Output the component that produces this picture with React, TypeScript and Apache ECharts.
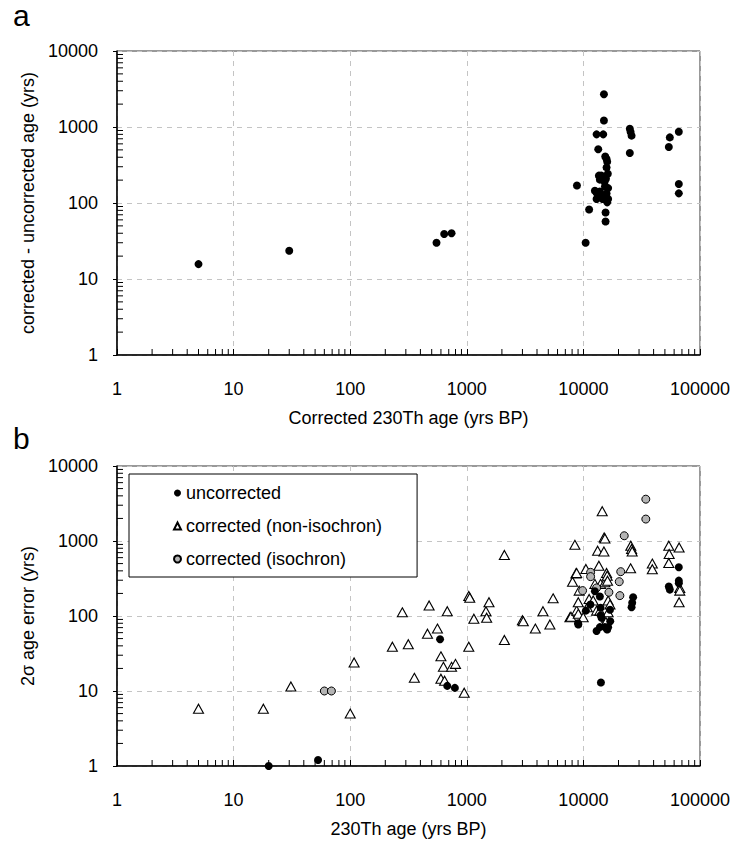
import React, { useEffect, useRef } from "react";
import * as echarts from "echarts";

const FONT = "'Liberation Sans', Arial, Helvetica, sans-serif";

// Panel a: corrected 230Th age vs (corrected - uncorrected age)
const panelA: [number, number][] = [
  [5, 15.7], [30, 23.5], [550, 30], [640, 39], [740, 40],
  [8800, 170], [10450, 30], [11200, 82], [12550, 145], [12970, 113],
  [12970, 800], [13400, 510], [13580, 229], [13840, 203], [13840, 142],
  [14600, 113], [14800, 800], [15000, 1220], [15000, 2700], [15300, 165],
  [15400, 410], [15500, 75], [15500, 57], [15600, 209], [15800, 380],
  [15800, 294], [15800, 133], [16000, 102], [16200, 243], [16300, 157],
  [16300, 113], [13000, 135], [14000, 120], [15200, 190], [16000, 350],
  [14200, 230], [25000, 950], [25400, 860], [25900, 770], [25000, 455],
  [55100, 730], [54000, 546], [65800, 867], [65800, 178], [65800, 134],
];

// Panel b: 230Th age vs 2-sigma age error
const uncorrected: [number, number][] = [
  [20, 1], [53, 1.2], [590, 49], [680, 11.7], [790, 11], [9000, 80],
  [9040, 77], [10500, 118], [11480, 142], [12550, 214], [12970, 63],
  [13840, 182], [13840, 71], [14040, 129], [14040, 102], [14130, 13],
  [15280, 71], [16000, 66], [16300, 71], [16900, 121], [14300, 95],
  [17000, 85], [25900, 131], [26200, 150], [26700, 178], [54000, 247],
  [55100, 225], [65800, 446], [65800, 296], [65800, 273],
];

const nonIsochron: [number, number][] = [
  [5, 5.8], [18, 5.8], [31, 11.5], [100, 5], [108, 24], [230, 39],
  [280, 112], [315, 42], [355, 15], [460, 58], [475, 138], [560, 68],
  [600, 29], [630, 21], [740, 21], [800, 23], [600, 14.6], [645, 13.7],
  [680, 116], [950, 9.5], [1040, 185], [1060, 175], [1150, 92], [1040, 39],
  [1460, 116], [1480, 95], [1550, 153], [2100, 650], [2100, 48], [3000, 88],
  [3050, 85], [3870, 68], [4500, 116], [5160, 77], [5500, 172], [7660, 96],
  [7820, 98], [8070, 287], [8450, 890], [8630, 370], [8750, 375], [8750, 118],
  [9040, 153], [9040, 107], [9200, 218], [9960, 96], [10500, 424], [10800, 131],
  [11200, 169], [12130, 161], [12550, 268], [12970, 118], [13240, 742],
  [13580, 469], [13840, 118], [14040, 268], [14500, 2500], [15000, 726],
  [15070, 1115], [15280, 281], [15300, 1080], [15800, 375], [15800, 95],
  [15600, 83], [16000, 345], [16100, 296], [16300, 161], [16300, 112],
  [16900, 142], [25400, 432], [25500, 865], [25900, 782], [26200, 726],
  [39000, 500], [39000, 420], [54000, 865], [54400, 671], [54000, 509],
  [66200, 820], [67100, 237], [67100, 218], [66200, 153],
];

const isochron: [number, number][] = [
  [60, 10], [69, 10], [9840, 218], [11530, 382], [11530, 335], [12970, 237],
  [16550, 207], [20300, 287], [20550, 187], [20900, 390], [22400, 1175],
  [34300, 3610], [34300, 1960],
];

const X_MIN = 1;
const X_MAX = 100000;
const Y_MIN = 1;
const Y_MAX = 10000;

function minorTickValues(maxVal: number): number[] {
  const out: number[] = [];
  for (let d = 1; d < maxVal; d *= 10) {
    for (let m = 2; m <= 9; m++) out.push(m * d);
  }
  return out;
}

const xMinor = minorTickValues(X_MAX);
const yMinor = minorTickValues(Y_MAX);

function makeXAxis(gridIndex: number, name: string) {
  return {
    type: "log",
    logBase: 10,
    gridIndex,
    min: X_MIN,
    max: X_MAX,
    name,
    nameLocation: "middle",
    nameGap: 54,
    nameTextStyle: { fontFamily: FONT, fontSize: 18, color: "#000" },
    axisLine: { show: true, onZero: false, lineStyle: { color: "#000", width: 1.5 } },
    axisTick: { show: true, inside: true, length: 6, lineStyle: { color: "#000" } },
    axisLabel: {
      fontFamily: FONT, fontSize: 18, color: "#000", margin: 25,
      formatter: (v: number) => String(v),
    },
    splitLine: { show: true, lineStyle: { color: "#c4c4c4", type: [5, 5], width: 1 } },
  };
}

function makeYAxis(gridIndex: number, name: string) {
  return {
    type: "log",
    logBase: 10,
    gridIndex,
    min: Y_MIN,
    max: Y_MAX,
    name,
    nameLocation: "middle",
    nameGap: 78,
    nameTextStyle: { fontFamily: FONT, fontSize: 18, color: "#000" },
    axisLine: { show: true, onZero: false, lineStyle: { color: "#000", width: 1.5 } },
    axisTick: { show: true, inside: false, length: 4, lineStyle: { color: "#000" } },
    axisLabel: {
      fontFamily: FONT, fontSize: 18, color: "#000", margin: 19,
      formatter: (v: number) => String(v),
    },
    splitLine: { show: true, lineStyle: { color: "#c4c4c4", type: [5, 5], width: 1 } },
  };
}

function minorTickSeries(index: number) {
  return [
    {
      name: `xminor${index}`,
      type: "scatter",
      xAxisIndex: index,
      yAxisIndex: index,
      silent: true,
      clip: false,
      symbol: "rect",
      symbolSize: [1, 6],
      symbolOffset: [0, -3],
      itemStyle: { color: "#000", opacity: 1 },
      data: xMinor.map((v) => [v, Y_MIN]),
      z: 5,
    },
    {
      name: `yminor${index}`,
      type: "scatter",
      xAxisIndex: index,
      yAxisIndex: index,
      silent: true,
      clip: false,
      symbol: "rect",
      symbolSize: [6, 1],
      symbolOffset: [3, 0],
      itemStyle: { color: "#000", opacity: 1 },
      data: yMinor.map((v) => [X_MIN, v]),
      z: 5,
    },
  ];
}

export default function App() {
  const ref = useRef<HTMLDivElement>(null);

  useEffect(() => {
    document.body.style.margin = "0";
    if (!ref.current) return;
    const chart = echarts.init(ref.current, undefined, { renderer: "svg" });
    chart.setOption({
      animation: false,
      backgroundColor: "#fff",
      grid: [
        { left: 117, right: 39, top: 51, height: 304, show: true, borderColor: "#333", borderWidth: 1, backgroundColor: "transparent" },
        { left: 117, right: 39, top: 466, height: 300, show: true, borderColor: "#333", borderWidth: 1, backgroundColor: "transparent" },
      ],
      xAxis: [
        makeXAxis(0, "Corrected 230Th age (yrs BP)"),
        makeXAxis(1, "230Th age (yrs BP)"),
      ],
      yAxis: [
        makeYAxis(0, "corrected - uncorrected age (yrs)"),
        makeYAxis(1, "2σ age error (yrs)"),
      ],
      legend: {
        data: [
          { name: "uncorrected", icon: "circle" },
          { name: "corrected (non-isochron)", icon: "triangle" },
          { name: "corrected (isochron)", icon: "circle" },
        ],
        orient: "vertical",
        left: 129,
        top: 474,
        itemWidth: 7,
        itemHeight: 7,
        itemGap: 15,
        padding: [10, 35, 9, 44],
        borderColor: "#000",
        borderWidth: 1,
        backgroundColor: "#fff",
        selectedMode: false,
        textStyle: { fontFamily: FONT, fontSize: 18, color: "#000" },
      },
      graphic: [
        { type: "text", left: 13, top: 0, style: { text: "a", font: `30px ${FONT}`, fill: "#000" } },
        { type: "text", left: 13, top: 423, style: { text: "b", font: `30px ${FONT}`, fill: "#000" } },
      ],
      series: [
        ...minorTickSeries(0),
        ...minorTickSeries(1),
        {
          name: "panel a",
          type: "scatter",
          xAxisIndex: 0,
          yAxisIndex: 0,
          symbol: "circle",
          symbolSize: 8,
          itemStyle: { color: "#000", opacity: 1 },
          data: panelA,
          z: 3,
        },
        {
          name: "corrected (non-isochron)",
          type: "scatter",
          xAxisIndex: 1,
          yAxisIndex: 1,
          symbol: "triangle",
          symbolSize: [10, 9],
          itemStyle: { color: "#fff", borderColor: "#000", borderWidth: 1.1, opacity: 1 },
          data: nonIsochron,
          z: 3,
        },
        {
          name: "corrected (isochron)",
          type: "scatter",
          xAxisIndex: 1,
          yAxisIndex: 1,
          symbol: "circle",
          symbolSize: 8,
          itemStyle: { color: "#b4b4b4", borderColor: "#000", borderWidth: 1, opacity: 1 },
          data: isochron,
          z: 4,
        },
        {
          name: "uncorrected",
          type: "scatter",
          xAxisIndex: 1,
          yAxisIndex: 1,
          symbol: "circle",
          symbolSize: 8,
          itemStyle: { color: "#000", opacity: 1 },
          data: uncorrected,
          z: 4,
        },
      ],
    });
    return () => chart.dispose();
  }, []);

  return <div ref={ref} style={{ width: 739, height: 841 }} />;
}
